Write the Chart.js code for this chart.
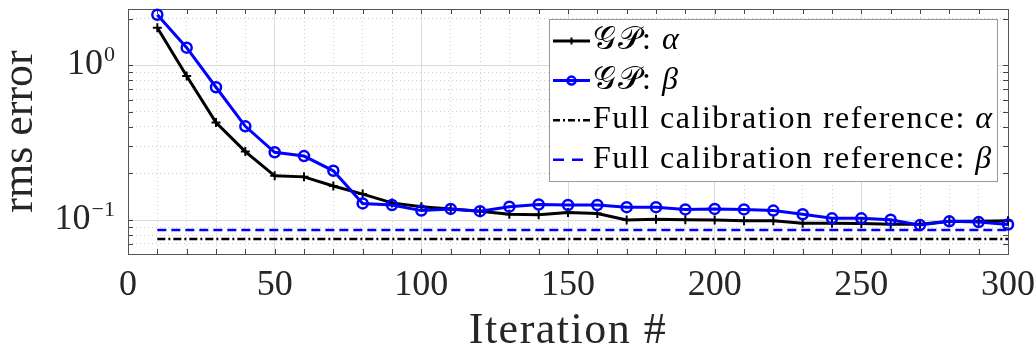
<!DOCTYPE html>
<html><head><meta charset="utf-8">
<script src="https://cdn.jsdelivr.net/npm/chart.js@4/dist/chart.umd.min.js"></script>
<style>html,body{margin:0;padding:0;background:#fff}#wrap{width:1036px;height:354px}</style>
</head><body><div id="wrap"><canvas id="c" width="1036" height="354"></canvas></div>
<script>
const iterations=[10,20,30,40,50,60,70,80,90,100,110,120,130,140,150,160,170,180,190,200,210,220,230,240,250,260,270,280,290,300];
const gpAlpha=[1.75,0.853,0.426,0.277,0.193,0.190,0.166,0.147,0.129,0.122,0.118,0.114,0.109,0.108,0.112,0.110,0.100,0.101,0.1005,0.100,0.099,0.099,0.0954,0.0954,0.095,0.094,0.094,0.098,0.098,0.099];
const gpBeta=[2.12,1.30,0.721,0.403,0.274,0.259,0.208,0.128,0.125,0.115,0.118,0.114,0.122,0.126,0.125,0.125,0.121,0.121,0.117,0.118,0.117,0.115,0.109,0.1025,0.1025,0.1005,0.0927,0.098,0.097,0.0935];
const refRange=[10,300];
const refAlpha=[0.0754,0.0754];
const refBeta=[0.0862,0.0862];
const xTicks=[0,50,100,150,200,250,300];
const xMinorTicks=[0,10,20,30,40,50,60,70,80,90,100,110,120,130,140,150,160,170,180,190,200,210,220,230,240,250,260,270,280,290,300];
const yMajorTicks=[0.1,1];
const yMinorTicks=[0.07,0.08,0.09,0.2,0.3,0.4,0.5,0.6,0.7,0.8,0.9,2];
const legendPrefix=['\u{1D4A2}\u{1D4AB}: ','\u{1D4A2}\u{1D4AB}: ','Full calibration reference: ','Full calibration reference: '];
const legendSymbol=['\u03B1','\u03B2','\u03B1','\u03B2'];
const xTitle='Iteration #';
const yTitle='rms error';

const SERIF='"Liberation Serif", "Times New Roman", serif';
const TXT='#262626';

const pts=(xs,ys)=>xs.map((x,i)=>({x:x,y:ys[i]}));

const deco={
  id:'deco',
  beforeDatasetsDraw(chart){
    const ctx=chart.ctx, a=chart.chartArea, xs=chart.scales.x, ys=chart.scales.y;
    ctx.save();
    ctx.strokeStyle='#444'; ctx.lineWidth=1;
    ctx.beginPath();
    xMinorTicks.forEach(v=>{const px=Math.round(xs.getPixelForValue(v))+0.5;
      ctx.moveTo(px,a.bottom);ctx.lineTo(px,a.bottom-5);
      ctx.moveTo(px,a.top);ctx.lineTo(px,a.top+5);});
    yMajorTicks.concat(yMinorTicks).forEach(v=>{const py=Math.round(ys.getPixelForValue(v))+0.5;
      ctx.moveTo(a.left,py);ctx.lineTo(a.left+5,py);
      ctx.moveTo(a.right,py);ctx.lineTo(a.right-5,py);});
    ctx.stroke();
    ctx.strokeStyle='#555';
    ctx.strokeRect(Math.round(a.left)+0.5,Math.round(a.top)+0.5,Math.round(a.right-a.left),Math.round(a.bottom-a.top));
    ctx.restore();
  },
  afterDraw(chart){
    const ctx=chart.ctx, a=chart.chartArea, ys=chart.scales.y;
    ctx.save();
    ctx.fillStyle=TXT;
    yMajorTicks.forEach(v=>{
      const e=Math.round(Math.log10(v));
      const es=e<0?'\u2212'+(-e):String(e);
      const py=ys.getPixelForValue(v);
      ctx.textAlign='left';ctx.textBaseline='alphabetic';
      ctx.font='22px '+SERIF; const ew=ctx.measureText(es).width;
      ctx.font='36px '+SERIF; const bw=ctx.measureText('10').width;
      const right=115;
      ctx.fillText('10',right-ew-bw-1,py+9);
      ctx.font='22px '+SERIF; ctx.fillText(es,right-ew,py-4);
    });
    ctx.font='44px '+SERIF; ctx.textAlign='center'; ctx.textBaseline='alphabetic';
    try{ctx.letterSpacing='1.5px';}catch(e){}
    ctx.fillText(xTitle,(a.left+a.right)/2,343);
    try{ctx.letterSpacing='0px';}catch(e){}
    ctx.save(); ctx.translate(32,(a.top+a.bottom)/2); ctx.rotate(-Math.PI/2);
    ctx.fillText(yTitle,0,0); ctx.restore();
    const bx=549.5,by=19.5,bw2=448,bh=162;
    ctx.fillStyle='#fff'; ctx.fillRect(bx,by,bw2,bh);
    ctx.strokeStyle='#999'; ctx.lineWidth=1; ctx.strokeRect(bx,by,bw2,bh);
    const dsets=chart.data.datasets;
    for(let i=0;i<4;i++){
      const ds=dsets[i]; const cy=41+i*39.6;
      ctx.save();
      ctx.strokeStyle=ds.borderColor; ctx.lineWidth=ds.borderWidth;
      ctx.setLineDash(i===2?[7,3,2,3]:(i===3?[11,8]:[]));
      ctx.beginPath(); ctx.moveTo(553,cy); ctx.lineTo(590,cy); ctx.stroke();
      ctx.setLineDash([]);
      if(ds.pointRadius>0){
        ctx.fillStyle=ds.pointBackgroundColor; ctx.strokeStyle=ds.pointBorderColor; ctx.lineWidth=ds.pointBorderWidth;
        Chart.helpers.drawPoint(ctx,{pointStyle:ds.pointStyle,radius:ds.pointRadius*0.8,borderWidth:ds.pointBorderWidth,rotation:0},571.5,cy);
      }
      ctx.restore();
      ctx.fillStyle='#000'; ctx.textAlign='left'; ctx.textBaseline='alphabetic';
      ctx.font='32px '+SERIF;
      try{ctx.letterSpacing='1.5px';}catch(e){}
      const pre=legendPrefix[i];
      ctx.fillText(pre,593,cy+8);
      const pw=ctx.measureText(pre).width;
      ctx.font='italic 32px '+SERIF;
      ctx.fillText(legendSymbol[i],593+pw,cy+8);
      try{ctx.letterSpacing='0px';}catch(e){}
    }
    ctx.restore();
  }
};

new Chart(document.getElementById('c'),{
  type:'line',
  data:{datasets:[
    {label:legendPrefix[0]+legendSymbol[0],data:pts(iterations,gpAlpha),borderColor:'#000',borderWidth:3,pointStyle:'cross',pointRadius:4.5,pointBorderWidth:2,pointBorderColor:'#000',pointBackgroundColor:'#000',order:1,clip:false,tension:0},
    {label:legendPrefix[1]+legendSymbol[1],data:pts(iterations,gpBeta),borderColor:'#0000ff',borderWidth:3,pointStyle:'circle',pointRadius:5,pointBorderWidth:2.5,pointBorderColor:'#0000ff',pointBackgroundColor:'rgba(0,0,255,0)',order:0,clip:false,tension:0},
    {label:legendPrefix[2]+legendSymbol[2],data:pts(refRange,refAlpha),borderColor:'#000',borderWidth:2.5,borderDash:[8,3,2,3],pointRadius:0,order:2,clip:false},
    {label:legendPrefix[3]+legendSymbol[3],data:pts(refRange,refBeta),borderColor:'#0000ff',borderWidth:2.5,borderDash:[9,5],pointRadius:0,order:2,clip:false}
  ]},
  options:{
    responsive:false,animation:false,devicePixelRatio:1,
    layout:{padding:{top:9,right:28,left:0,bottom:0}},
    plugins:{legend:{display:false},tooltip:{enabled:false}},
    scales:{
      x:{type:'linear',position:'bottom',min:0,max:300,weight:1,
        afterBuildTicks(s){s.ticks=xTicks.map(v=>({value:v}));},
        ticks:{font:{family:SERIF,size:36},color:TXT,padding:10,maxRotation:0,autoSkip:false},
        grid:{color:'#dcdcdc',lineWidth:1,drawTicks:false},border:{display:false},
        afterFit(s){s.height=100;s.paddingLeft=0;s.paddingRight=0;}},
      xm:{type:'linear',position:'bottom',min:0,max:300,weight:2,
        afterBuildTicks(s){s.ticks=xMinorTicks.map(v=>({value:v}));},
        ticks:{display:false},
        grid:{color:c=>(c.tick&&c.tick.value%50===0)?'rgba(0,0,0,0)':'#cfcfcf',lineWidth:1,drawTicks:false},border:{display:false,dash:[1,3]},
        afterFit(s){s.height=0;s.paddingLeft=0;s.paddingRight=0;}},
      y:{type:'logarithmic',position:'left',min:0.0603,max:2.31,weight:1,
        afterBuildTicks(s){s.ticks=yMajorTicks.map(v=>({value:v}));},
        ticks:{display:false},
        grid:{color:'#dcdcdc',lineWidth:1,drawTicks:false},border:{display:false},
        afterFit(s){s.width=128;s.paddingTop=0;s.paddingBottom=0;}},
      ym:{type:'logarithmic',position:'left',min:0.0603,max:2.31,weight:2,
        afterBuildTicks(s){s.ticks=yMinorTicks.map(v=>({value:v}));},
        ticks:{display:false},
        grid:{color:'#cfcfcf',lineWidth:1,drawTicks:false},border:{display:false,dash:[1,3]},
        afterFit(s){s.width=0;s.paddingTop=0;s.paddingBottom=0;}}
    }
  },
  plugins:[deco]
});
</script></body></html>
